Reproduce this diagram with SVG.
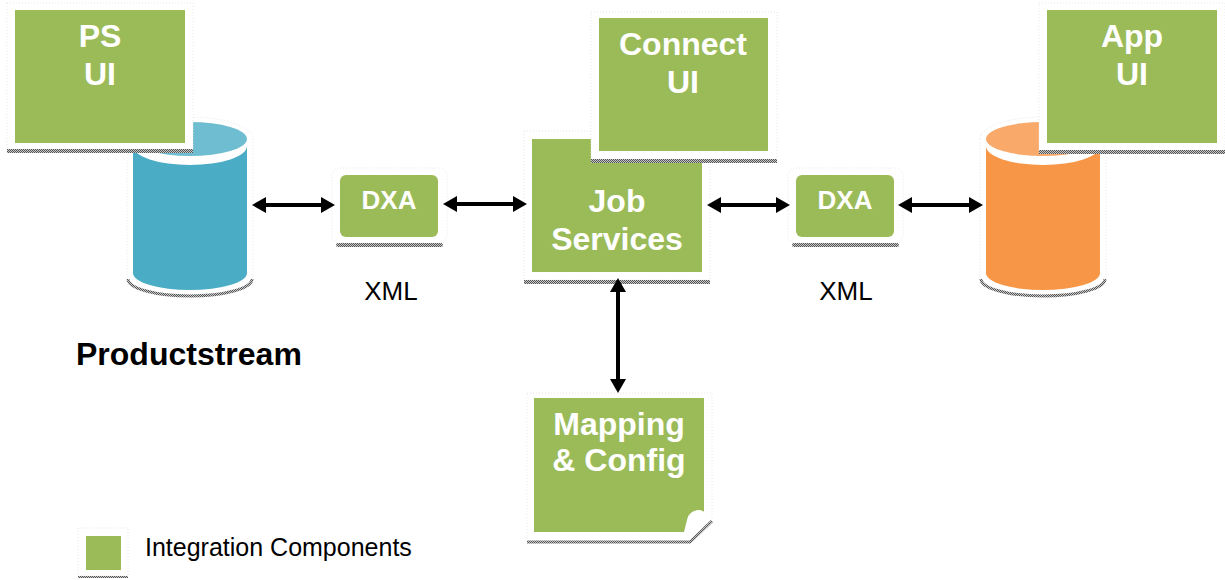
<svg xmlns="http://www.w3.org/2000/svg" width="1225" height="580" viewBox="0 0 1225 580">
<defs>
<pattern id="chk" width="2" height="2" patternUnits="userSpaceOnUse"><rect width="2" height="2" fill="#c8c8c8"/><rect width="1" height="1" fill="#555"/><rect x="1" y="1" width="1" height="1" fill="#555"/></pattern>
<marker id="ah" viewBox="0 0 14 16" markerWidth="14" markerHeight="16" refX="4" refY="8" orient="auto-start-reverse" markerUnits="userSpaceOnUse"><path d="M0,0 L14,8 L0,16 Z" fill="#000"/></marker>
</defs>
<style>
.frame{fill:#fff;stroke:#e6e6e6;stroke-width:1;stroke-dasharray:1 2}
.shadow{fill:url(#chk)}
.sline{fill:none;stroke:url(#chk);stroke-width:3}
.g{fill:#9BBB59}
.t{font-family:"Liberation Sans",Arial,sans-serif;font-weight:bold;fill:#fff;text-anchor:middle}
.big{font-size:32px}
.dxa{font-size:26px}
.lbl{font-family:"Liberation Sans",Arial,sans-serif;fill:#000}
.conn{stroke:#000;stroke-width:4;fill:none;marker-start:url(#ah);marker-end:url(#ah)}
</style>
<rect width="1225" height="580" fill="#fff"/>

<g id="productstream-db">
<path class="frame" d="M127,139 A63,22 0 0 1 253,139 V275 A63,21 0 0 1 127,275 Z"/>
<path class="sline" d="M128,279 A62,17 0 0 0 252,279"/>
<path d="M133,146 V273 A57,17 0 0 0 247,273 V146 Z" fill="#4BACC6"/>
<ellipse cx="190" cy="146" rx="57" ry="19" fill="#fff"/>
<ellipse cx="190" cy="139" rx="57" ry="17" fill="#6FBDD1"/>
</g>

<g id="app-db">
<path class="frame" d="M980,139 A63,22 0 0 1 1106,139 V275 A63,21 0 0 1 980,275 Z"/>
<path class="sline" d="M981,279 A62,17 0 0 0 1105,279"/>
<path d="M986,146 V273 A57,17 0 0 0 1100,273 V146 Z" fill="#F79646"/>
<ellipse cx="1043" cy="146" rx="57" ry="19" fill="#fff"/>
<ellipse cx="1043" cy="139" rx="57" ry="17" fill="#F9A96A"/>
</g>

<g id="ps-ui">
<rect class="frame" x="7" y="3" width="186" height="146"/>
<rect class="shadow" x="7" y="149" width="186" height="4"/>
<rect class="g" x="15" y="10" width="170" height="133"/>
<text class="t big" x="100" y="47">PS</text>
<text class="t big" x="100" y="85">UI</text>
</g>

<g id="job-services">
<rect class="frame" x="524" y="131" width="186" height="149"/>
<rect class="shadow" x="524" y="280" width="186" height="4"/>
<rect class="g" x="532" y="139" width="170" height="133"/>
<text class="t big" x="617" y="212">Job</text>
<text class="t big" x="617" y="250">Services</text>
</g>

<g id="connect-ui">
<rect class="frame" x="591" y="12" width="186" height="147"/>
<rect class="shadow" x="591" y="159" width="186" height="4"/>
<rect class="g" x="599" y="18" width="169" height="133"/>
<text class="t big" x="683" y="55">Connect</text>
<text class="t big" x="683" y="93">UI</text>
</g>

<g id="app-ui">
<rect class="frame" x="1039" y="3" width="186" height="147"/>
<rect class="shadow" x="1039" y="150" width="186" height="4"/>
<rect class="g" x="1047" y="10" width="170" height="133"/>
<text class="t big" x="1132" y="47">App</text>
<text class="t big" x="1132" y="85">UI</text>
</g>

<g id="dxa-left">
<rect class="frame" x="332" y="168" width="115" height="75" rx="8"/>
<rect class="shadow" x="336" y="243" width="107" height="4" rx="2"/>
<rect class="g" x="340" y="175" width="98" height="62" rx="6"/>
<text class="t dxa" x="389" y="209">DXA</text>
</g>

<g id="dxa-right">
<rect class="frame" x="788" y="168" width="115" height="75" rx="8"/>
<rect class="shadow" x="792" y="243" width="107" height="4" rx="2"/>
<rect class="g" x="796" y="175" width="98" height="62" rx="6"/>
<text class="t dxa" x="845" y="209">DXA</text>
</g>

<g id="mapping-config">
<path class="frame" d="M527,393 H712 V519 L690,541 H527 Z"/>
<path class="sline" d="M527,542 H690 L712,521"/>
<path class="g" d="M534,398 H704 V512 C699,508 691,511 688,517 C686,523 685,529 684,532 H534 Z"/>
<path d="M688,517 C691,511 699,508 704,512 L711,519 L690,539 C688,534 686,524 688,517 Z" fill="#fff"/>
<text class="t big" x="619" y="435">Mapping</text>
<text class="t big" x="619" y="471">&amp; Config</text>
</g>

<g id="connectors">
<line class="conn" x1="262" y1="205" x2="325" y2="205"/>
<line class="conn" x1="453" y1="204" x2="517" y2="204"/>
<line class="conn" x1="717" y1="205" x2="780" y2="205"/>
<line class="conn" x1="908" y1="205" x2="973" y2="205"/>
<line class="conn" x1="618" y1="288" x2="618" y2="383"/>
</g>

<g id="labels">
<text class="lbl" x="391" y="300" font-size="26" text-anchor="middle">XML</text>
<text class="lbl" x="846" y="300" font-size="26" text-anchor="middle">XML</text>
<text class="lbl" x="76" y="365" font-size="32" font-weight="bold">Productstream</text>
</g>

<g id="legend">
<rect class="frame" x="78" y="528" width="50" height="48"/>
<rect class="shadow" x="78" y="576" width="50" height="2"/>
<rect class="g" x="86" y="536" width="35" height="34"/>
<text class="lbl" x="145" y="556" font-size="25">Integration Components</text>
</g>
</svg>
